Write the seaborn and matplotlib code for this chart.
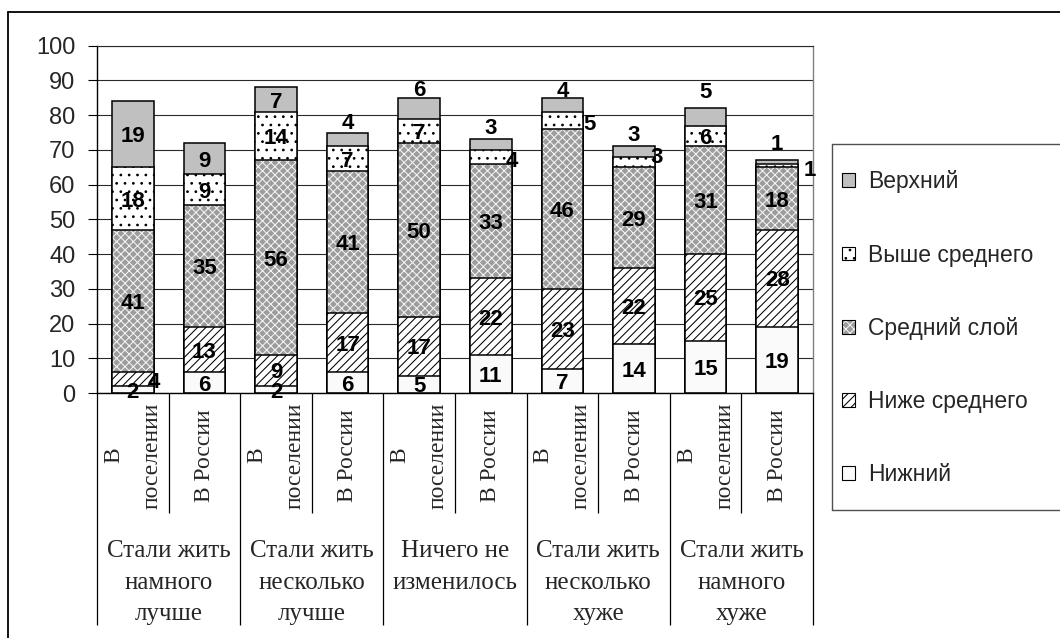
import numpy as np
import pandas as pd
import matplotlib
matplotlib.use("Agg")
import matplotlib.pyplot as plt
import seaborn as sns
from matplotlib.patches import Patch, Rectangle
from matplotlib.lines import Line2D
from matplotlib.legend_handler import HandlerTuple

# ---------------- data ----------------
groups = ["Стали жить\nнамного\nлучше", "Стали жить\nнесколько\nлучше",
          "Ничего не\nизменилось", "Стали жить\nнесколько\nхуже",
          "Стали жить\nнамного\nхуже"]
subgroups = ["В\nпоселении", "В России"]
layers = ["Нижний", "Ниже среднего", "Средний слой", "Выше среднего", "Верхний"]
nizhniy = [2, 6, 2, 6, 5, 11, 7, 14, 15, 19]
nizhe_srednego = [4, 13, 9, 17, 17, 22, 23, 22, 25, 28]
sredniy_sloy = [41, 35, 56, 41, 50, 33, 46, 29, 31, 18]
vyshe_srednego = [18, 9, 14, 7, 7, 4, 5, 3, 6, 1]
verkhniy = [19, 9, 7, 4, 6, 3, 4, 3, 5, 1]
yticks = list(range(0, 101, 10))

# ---------------- style ----------------
sns.set_style("white")
plt.rcParams['font.family'] = ['Liberation Sans', 'DejaVu Sans']
plt.rcParams['hatch.linewidth'] = 0.75

W, H = 1060, 638
fig = plt.figure(figsize=(W / 100, H / 100), dpi=100)
fig.patch.set_facecolor('white')
ax = fig.add_axes([97 / W, 245 / H, 716 / W, 347.3 / H])

bar_ids = [f"{g}|{s}" for g in groups for s in subgroups]
df = pd.DataFrame({"bar": bar_ids,
                   "Нижний": nizhniy,
                   "Ниже среднего": nizhe_srednego,
                   "Средний слой": sredniy_sloy,
                   "Выше среднего": vyshe_srednego,
                   "Верхний": verkhniy})
cum = df[layers].cumsum(axis=1)

# color = fill, hcolor = hatch colour
styles = {
    "Нижний": dict(color="#fafafa", hatch=None, hcolor="black"),
    "Ниже среднего": dict(color="#ffffff", hatch="////", hcolor="black"),
    "Средний слой": dict(color="#9c9c9c", hatch="xxxx", hcolor="#f4f4f4"),
    "Выше среднего": dict(color="#ffffff", hatch="..", hcolor="black"),
    "Верхний": dict(color="#c0c0c0", hatch=None, hcolor="black"),
}

# stacked bars: draw cumulative totals from the top layer down
for layer in reversed(layers):
    st = styles[layer]
    d = pd.DataFrame({"bar": bar_ids, "v": cum[layer].values})
    before = len(ax.patches)
    white_hatch = st["hcolor"] != "black"
    sns.barplot(data=d, x="bar", y="v", color=st["color"],
                saturation=1, width=0.58,
                edgecolor=st["hcolor"], linewidth=0 if white_hatch else 1.1,
                hatch=st["hatch"], errorbar=None, ax=ax, zorder=2)
    if white_hatch:
        for p in list(ax.patches[before:]):
            ax.add_patch(Rectangle(p.get_xy(), p.get_width(), p.get_height(),
                                   fill=False, edgecolor="black",
                                   linewidth=1.1, zorder=2))

ax.set_xlim(-0.5, 9.5)
ax.set_ylim(0, 100)
ax.set_yticks(yticks)
ax.set_yticklabels([str(t) for t in yticks], fontsize=17)
ax.set_xlabel("")
ax.set_ylabel("")

ax.set_axisbelow(True)
ax.yaxis.grid(True, color="#2a2a2a", linewidth=0.8)
ax.xaxis.grid(False)
for side in ["left", "bottom"]:
    ax.spines[side].set_color("black")
    ax.spines[side].set_linewidth(1.0)
ax.spines["top"].set_color("#2a2a2a")
ax.spines["top"].set_linewidth(0.8)
ax.spines["right"].set_color("#808080")
ax.spines["right"].set_linewidth(1.0)

ax.tick_params(axis="y", length=6.5, width=0.8, color="black", pad=9,
               direction="out", left=True)

# category "table" lines below the axis made from ticks
n = len(bar_ids)
major = [k - 0.5 for k in range(0, n + 1, 2)]
minor = [k + 0.5 for k in range(0, n, 2)]
ax.set_xticks(major)
ax.set_xticklabels([""] * len(major))
ax.set_xticks(minor, minor=True)
ax.tick_params(axis="x", which="major", length=167, width=0.9, color="black",
               direction="out", bottom=True)
ax.tick_params(axis="x", which="minor", length=86.4, width=0.9, color="black",
               direction="out", bottom=True)

xt = ax.get_xaxis_transform()
for i, bid in enumerate(bar_ids):
    sub = bid.split("|")[1]
    ax.text(i, -0.18, sub, transform=xt, rotation=90, ha="center", va="center",
            multialignment="center", linespacing=2.07,
            family=["Liberation Serif", "DejaVu Serif"], fontsize=17)
for g, name in enumerate(groups):
    ax.text(2 * g + 0.5, -0.424, name, transform=xt, ha="center", va="top",
            multialignment="center", linespacing=1.56,
            family=["Liberation Serif", "DejaVu Serif"], fontsize=18)

# data labels
special = {
    ("Ниже среднего", 0): (0.30, -0.2),
    ("Верхний", 3): (0.0, 5.2),
    ("Верхний", 4): (0.0, 5.8),
    ("Верхний", 5): (0.0, 5.3),
    ("Выше среднего", 5): (0.30, -0.6),
    ("Верхний", 6): (0.0, 4.6),
    ("Выше среднего", 6): (0.38, -0.5),
    ("Верхний", 7): (0.0, 5.5),
    ("Выше среднего", 7): (0.32, 2.1),
    ("Верхний", 8): (0.0, 7.8),
    ("Верхний", 9): (0.0, 5.8),
    ("Выше среднего", 9): (0.46, -0.7),
}
for li, layer in enumerate(layers):
    vals = df[layer].values
    tops = cum[layer].values
    for i in range(n):
        v = vals[i]
        c = tops[i] - v / 2
        dx, dy = special.get((layer, i), (0.0, 0.0))
        ax.text(i + dx, c + dy, str(v), ha="center", va="center_baseline",
                fontsize=16, fontweight="bold", color="black", zorder=6,
                clip_on=False)

# legend
handles = []
for l in reversed(layers):
    st = styles[l]
    fillp = Patch(facecolor=st["color"], hatch=st["hatch"],
                  edgecolor=st["hcolor"], linewidth=0)
    edgep = Patch(facecolor="none", edgecolor="black", linewidth=0.8)
    handles.append((fillp, edgep))
fig.legend(handles=handles, labels=list(reversed(layers)), loc="upper left",
           handler_map={tuple: HandlerTuple(ndivide=1, pad=0)},
           bbox_to_anchor=(831 / W, 1 - 159 / H), frameon=False, borderpad=0,
           labelspacing=2.19, handlelength=0.55, handleheight=0.55,
           handletextpad=0.55, prop=dict(family="Liberation Sans", size=16.5))

# legend frame (extends past right edge)
lx, lt, lb = 832 / W, 1 - 144 / H, 1 - 510 / H
for xs, ys in [([lx, 1.2], [lt, lt]), ([lx, lx], [lb, lt]), ([lx, 1.2], [lb, lb])]:
    fig.add_artist(Line2D(xs, ys, color="#505050", linewidth=1.0))

# outer chart frame
ox, oy = 8 / W, 1 - 12 / H
fig.add_artist(Line2D([ox, ox], [-0.1, oy], color="black", linewidth=1.3))
fig.add_artist(Line2D([ox, 1.2], [oy, oy], color="black", linewidth=1.3))

fig.savefig("out.png", dpi=100)
